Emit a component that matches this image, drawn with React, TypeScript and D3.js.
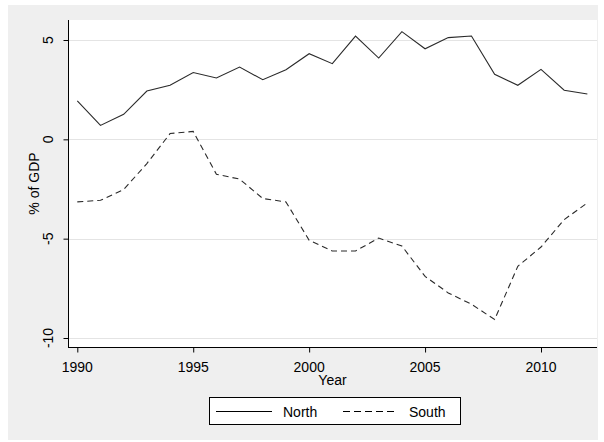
import React, { useEffect, useRef } from "react";
import * as d3 from "d3";

const years = [
  1990, 1991, 1992, 1993, 1994, 1995, 1996, 1997, 1998, 1999, 2000, 2001,
  2002, 2003, 2004, 2005, 2006, 2007, 2008, 2009, 2010, 2011, 2012,
];
const north = [
  1.93, 0.7, 1.26, 2.43, 2.72, 3.36, 3.09, 3.64, 3.0, 3.5, 4.31, 3.81, 5.2,
  4.09, 5.42, 4.56, 5.12, 5.2, 3.27, 2.72, 3.52, 2.47, 2.28,
];
const south = [
  -3.15, -3.07, -2.53, -1.22, 0.29, 0.4, -1.76, -2.0, -2.98, -3.15, -5.08,
  -5.62, -5.62, -4.97, -5.37, -6.9, -7.73, -8.3, -9.07, -6.39, -5.42, -4.04,
  -3.2,
];
const yTicks = [-10, -5, 0, 5];
const xTicks = [1990, 1995, 2000, 2005, 2010];
const seriesNames = ["North", "South"];

const App: React.FC = () => {
  const ref = useRef<SVGSVGElement | null>(null);

  useEffect(() => {
    const svg = d3.select(ref.current);
    svg.selectAll("*").remove();

    const width = 604;
    const height = 442;
    const plot = { left: 68, right: 597, top: 20, bottom: 347 };
    const font = "'Liberation Sans', Arial, sans-serif";

    svg.append("rect").attr("width", width).attr("height", height).attr("fill", "#fff");
    svg
      .append("rect")
      .attr("x", 8)
      .attr("y", 5)
      .attr("width", 590)
      .attr("height", 435)
      .attr("fill", "#efefef");
    svg
      .append("rect")
      .attr("x", plot.left)
      .attr("y", plot.top)
      .attr("width", plot.right - plot.left)
      .attr("height", plot.bottom - plot.top)
      .attr("fill", "#fff");

    const x = d3.scaleLinear().domain([1990, 2010]).range([77.3, 541]);
    const y = d3.scaleLinear().domain([-10, 5]).range([338, 40]);

    // gridlines
    svg
      .selectAll(".grid")
      .data(yTicks)
      .enter()
      .append("line")
      .attr("x1", plot.left)
      .attr("x2", plot.right)
      .attr("y1", (d) => Math.round(y(d)) + 0.5)
      .attr("y2", (d) => Math.round(y(d)) + 0.5)
      .attr("stroke", "#e4e4e4");

    // y axis
    const yAxis = svg
      .append("g")
      .attr("transform", `translate(${plot.left + 0.5},0)`)
      .call(
        d3
          .axisLeft(y)
          .tickValues(yTicks)
          .tickSize(5)
          .tickPadding(0)
          .tickFormat(() => "")
      );
    yAxis.select(".domain").attr("d", `M0,${plot.top}V${plot.bottom}`).attr("stroke", "#000");
    yAxis.selectAll(".tick line").attr("stroke", "#000");

    svg
      .selectAll(".ylab")
      .data(yTicks)
      .enter()
      .append("text")
      .attr("transform", (d) => `translate(53,${y(d)}) rotate(-90)`)
      .attr("text-anchor", "middle")
      .attr("font-family", font)
      .attr("font-size", 14)
      .attr("fill", "#000")
      .text((d) => String(d));

    // x axis
    const xAxis = svg
      .append("g")
      .attr("transform", `translate(0,${plot.bottom + 0.5})`)
      .call(
        d3
          .axisBottom(x)
          .tickValues(xTicks)
          .tickSize(5)
          .tickFormat(() => "")
      );
    xAxis.select(".domain").attr("d", `M${plot.left},0H${plot.right}`).attr("stroke", "#000");
    xAxis.selectAll(".tick line").attr("stroke", "#000");

    svg
      .selectAll(".xlab")
      .data(xTicks)
      .enter()
      .append("text")
      .attr("x", (d) => x(d))
      .attr("y", 372)
      .attr("text-anchor", "middle")
      .attr("font-family", font)
      .attr("font-size", 14)
      .attr("fill", "#000")
      .text((d) => String(d));

    svg
      .append("text")
      .attr("x", (plot.left + plot.right) / 2)
      .attr("y", 385)
      .attr("text-anchor", "middle")
      .attr("font-family", font)
      .attr("font-size", 14)
      .text("Year");

    svg
      .append("text")
      .attr("transform", `translate(39,${(plot.top + plot.bottom) / 2}) rotate(-90)`)
      .attr("text-anchor", "middle")
      .attr("font-family", font)
      .attr("font-size", 14)
      .text("% of GDP");

    // lines
    const line = d3
      .line<number>()
      .x((_, i) => x(years[i]))
      .y((d) => y(d));

    svg
      .append("path")
      .datum(north)
      .attr("fill", "none")
      .attr("stroke", "#2a2a2a")
      .attr("stroke-width", 1.1)
      .attr("d", line);

    svg
      .append("path")
      .datum(south)
      .attr("fill", "none")
      .attr("stroke", "#2a2a2a")
      .attr("stroke-width", 1.1)
      .attr("stroke-dasharray", "6,4")
      .attr("d", line);

    // legend
    svg
      .append("rect")
      .attr("x", 209.5)
      .attr("y", 397.5)
      .attr("width", 251)
      .attr("height", 27)
      .attr("fill", "#fff")
      .attr("stroke", "#000");

    const legend = [
      { name: seriesNames[0], x1: 216, x2: 272, tx: 283, dash: null },
      { name: seriesNames[1], x1: 343, x2: 398, tx: 409, dash: "7,4" },
    ];
    legend.forEach((l) => {
      svg
        .append("line")
        .attr("x1", l.x1)
        .attr("x2", l.x2)
        .attr("y1", 411.5)
        .attr("y2", 411.5)
        .attr("stroke", "#000")
        .attr("stroke-dasharray", l.dash);
      svg
        .append("text")
        .attr("x", l.tx)
        .attr("y", 417)
        .attr("font-family", font)
        .attr("font-size", 14)
        .text(l.name);
    });
  }, []);

  return (
    <svg
      ref={ref}
      width={604}
      height={442}
      style={{ position: "absolute", left: 0, top: 0 }}
    ></svg>
  );
};

export default App;
